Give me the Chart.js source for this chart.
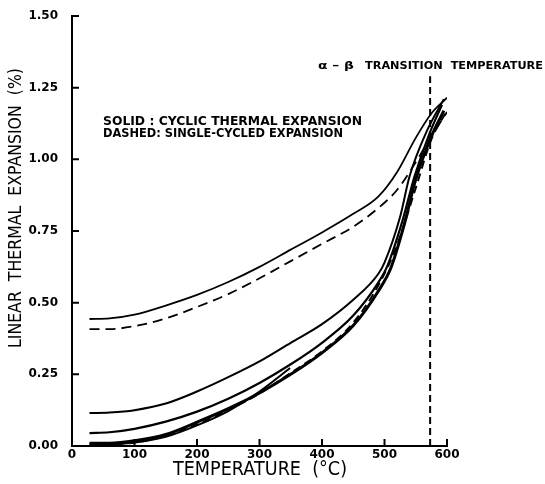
<!DOCTYPE html>
<html>
<head>
<meta charset="utf-8">
<script src="https://cdn.jsdelivr.net/npm/chart.js@4"></script>
<style>
html,body{margin:0;padding:0;background:#fff;}
#wrap{width:545px;height:484px;position:relative;}
</style>
</head>
<body>
<div id="wrap"><canvas id="c" width="545" height="484"></canvas></div>
<script>
// ---- data ----
const xTicks = [0, 100, 200, 300, 400, 500, 600];
const yTicks = [0, 0.25, 0.5, 0.75, 1.0, 1.25, 1.5];

// upper specimen
const tUpper = [28, 60, 100, 150, 200, 250, 300, 350, 400, 450, 490, 520, 550, 575, 600];
const upperCyclic = [0.443, 0.445, 0.458, 0.49, 0.527, 0.572, 0.625, 0.685, 0.745, 0.81, 0.87, 0.955, 1.075, 1.16, 1.215];
const upperSingle = [0.408, 0.408, 0.418, 0.445, 0.485, 0.53, 0.585, 0.645, 0.705, 0.765, 0.83, 0.893, 0.99, 1.08, 1.165];

// lower specimen cycles
const tCycA = [28, 60, 100, 150, 200, 250, 300, 350, 400, 450, 490, 500, 525, 540, 568, 595];
const cycA = [0.115, 0.117, 0.125, 0.148, 0.19, 0.24, 0.295, 0.36, 0.425, 0.51, 0.6, 0.64, 0.8, 0.94, 1.1, 1.21];
const tCycB = [28, 60, 100, 150, 200, 250, 300, 350, 400, 450, 490, 505, 528, 548, 572, 592];
const cycB = [0.045, 0.048, 0.06, 0.085, 0.12, 0.165, 0.22, 0.285, 0.36, 0.455, 0.57, 0.63, 0.78, 0.94, 1.09, 1.19];
const tCycC = [28, 60, 100, 150, 200, 250, 300, 350, 400, 450, 490, 510, 530, 550, 575, 595];
const cycC = [0.01, 0.01, 0.018, 0.04, 0.083, 0.13, 0.185, 0.25, 0.325, 0.42, 0.54, 0.62, 0.76, 0.93, 1.08, 1.17];
const tCycD = [28, 60, 100, 150, 200, 250, 300, 349];
const cycD = [0.005, 0.006, 0.012, 0.032, 0.072, 0.122, 0.19, 0.272];
const tLowerSingle = [28, 100, 150, 200, 250, 300, 350, 400, 450, 490, 520, 550, 575, 600];
const lowerSingle = [0.002, 0.012, 0.035, 0.075, 0.125, 0.183, 0.255, 0.33, 0.43, 0.56, 0.70, 0.90, 1.07, 1.17];

const transitionT = 573;
const transitionTop = 1.29;

function pts(xs, ys){ return xs.map((x,i)=>({x:x, y:ys[i]})); }

const solid = (data, w) => ({data, borderColor:'#000', borderWidth:w||2, showLine:true, pointRadius:0, fill:false, cubicInterpolationMode:'monotone'});
const dashed = (data, w, dash) => ({data, borderColor:'#000', borderWidth:w||2, borderDash:dash||[10,6], showLine:true, pointRadius:0, fill:false, cubicInterpolationMode:'monotone'});

const FONT = '"DejaVu Sans", sans-serif';

function fitText(ctx, txt, x, y, width, font, align, rot){
  ctx.save();
  ctx.font = font;
  ctx.fillStyle = '#000';
  ctx.textBaseline = 'middle';
  const w = ctx.measureText(txt).width;
  const sx = width / w;
  ctx.translate(x, y);
  if (rot) ctx.rotate(rot);
  ctx.scale(sx, 1);
  ctx.textAlign = align || 'left';
  ctx.fillText(txt, 0, 0);
  ctx.restore();
}

const decor = {
  id:'decor',
  afterDraw(chart){
    const ctx = chart.ctx;
    const xs = chart.scales.x, ys = chart.scales.y;
    ctx.save();
    ctx.strokeStyle = '#000';
    ctx.lineWidth = 2;
    ctx.beginPath();
    xs.ticks.forEach(t => { const p = xs.getPixelForValue(t.value); ctx.moveTo(p, ys.bottom); ctx.lineTo(p, ys.bottom - 7); });
    ys.ticks.forEach(t => { const p = ys.getPixelForValue(t.value); ctx.moveTo(xs.left, p); ctx.lineTo(xs.left + 7, p); });
    ctx.stroke();
    ctx.restore();
    // axis titles
    fitText(ctx, 'TEMPERATURE  (°C)', 260, 470, 174, '19px ' + FONT, 'center');
    fitText(ctx, 'LINEAR  THERMAL  EXPANSION  (%)', 17, 208, 280, '17px ' + FONT, 'center', -Math.PI/2);
    // notes
    fitText(ctx, 'SOLID : CYCLIC THERMAL EXPANSION', 103, 122, 259, 'bold 12px ' + FONT, 'left');
    fitText(ctx, 'DASHED: SINGLE-CYCLED EXPANSION', 103, 133.5, 240, 'bold 12px ' + FONT, 'left');
    fitText(ctx, 'α – β', 318, 66, 36, 'bold 11px ' + FONT, 'left');
    fitText(ctx, 'TRANSITION  TEMPERATURE', 365, 66, 178, 'bold 11px ' + FONT, 'left');
  }
};

new Chart(document.getElementById('c'), {
  type:'scatter',
  data:{ datasets:[
    solid(pts(tUpper, upperCyclic), 1.8),
    dashed(pts(tUpper, upperSingle), 1.8, [10,6]),
    solid(pts(tCycA, cycA), 2),
    solid(pts(tCycB, cycB), 2.2),
    solid(pts(tCycC, cycC), 3),
    solid(pts(tCycD, cycD), 2),
    dashed(pts(tLowerSingle, lowerSingle), 2, [8,5]),
    {data:[{x:transitionT,y:0},{x:transitionT,y:transitionTop}], borderColor:'#000', borderWidth:2, borderDash:[7,4], showLine:true, pointRadius:0}
  ]},
  options:{
    responsive:false,
    animation:false,
    events:[],
    layout:{padding:{top:16, right:98, bottom:0, left:0}},
    plugins:{legend:{display:false}, tooltip:{enabled:false}},
    scales:{
      x:{
        type:'linear', min:0, max:600,
        afterBuildTicks(s){ s.ticks = xTicks.map(v=>({value:v})); },
        afterFit(s){ s.height = 38; s.paddingLeft = 0; s.paddingRight = 0; },
        grid:{display:false},
        border:{display:true, color:'#000', width:2},
        ticks:{color:'#000', padding:-6, maxRotation:0, font:{family:FONT, size:12, weight:'bold'}, callback:v=>String(v)}
      },
      y:{
        type:'linear', min:0, max:1.5,
        afterBuildTicks(s){ s.ticks = yTicks.map(v=>({value:v})); },
        afterFit(s){ s.width = 72; s.paddingTop = 0; s.paddingBottom = 0; },
        grid:{display:false},
        border:{display:true, color:'#000', width:2},
        ticks:{color:'#000', padding:6, font:{family:FONT, size:12, weight:'bold'}, callback:v=>Number(v).toFixed(2)}
      }
    }
  },
  plugins:[decor]
});
</script>
</body>
</html>
